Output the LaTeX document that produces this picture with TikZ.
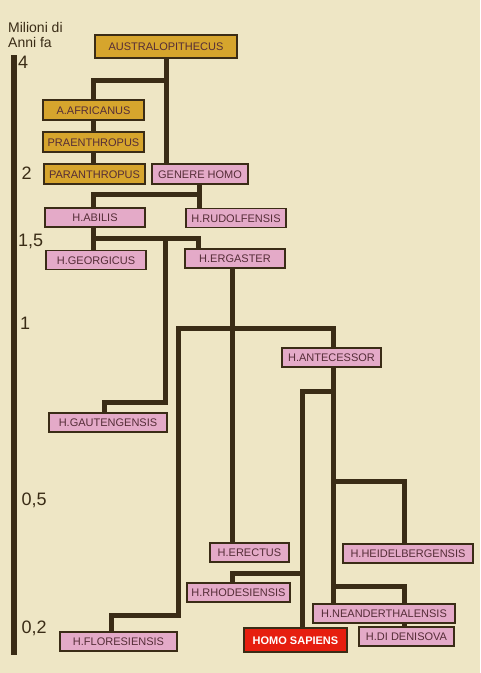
\documentclass[tikz,border=0pt]{standalone}
\usepackage{fontspec}
\setmainfont{Liberation Sans}
\usetikzlibrary{calc}

\definecolor{sfondo}{RGB}{238,230,197}
\definecolor{tronco}{RGB}{58,44,22}
\definecolor{rosa}{RGB}{228,170,200}
\definecolor{ocra}{RGB}{214,165,45}
\definecolor{rosso}{RGB}{230,30,15}
\definecolor{scritta}{RGB}{85,45,55}

\tikzset{
  specie/.style={draw=tronco, line width=1.2pt, fill=rosa, inner sep=0pt,
    minimum height=19pt, text height=8pt, text depth=0pt,
    font=\fontsize{11}{13}\selectfont, text=scritta},
  antico/.style={fill=ocra},
  ramo/.style={draw=tronco, line width=5pt},
  tacca/.style={anchor=base west, inner sep=0pt, font=\fontsize{18}{20}\selectfont, text=tronco},
}

\begin{document}
\begin{tikzpicture}[x=1pt,y=-1pt]
	\fill[sfondo] (0,0) rectangle (480,673);
	\useasboundingbox (0,0) rectangle (480,673);

	% scala dei tempi
	\draw[tronco, line width=6pt] (14,55) -- (14,655);
	\begin{scope}[every node/.style={anchor=base west, inner sep=0pt, font=\fontsize{14}{15}\selectfont, text=tronco}]
		\node (tit1) at (8,32) {Milioni di};
		\node (tit2) at (8,47) {Anni fa};
	\end{scope}
	\node[tacca] (t4) at (18,68) {4};
	\node[tacca] (t2) at (21.5,179) {2};
	\node[tacca] (t15) at (18,246) {1,5};
	\node[tacca] (t1) at (20,329) {1};
	\node[tacca] (t05) at (21.5,505) {0,5};
	\node[tacca] (t02) at (21.5,633) {0,2};

	% specie
	\begin{scope}[every node/.style={specie}]
		\node[antico, minimum width=142pt, minimum height=23pt] (austr) at (166,46.5) {AUSTRALOPITHECUS};
		\node[antico, minimum width=101pt, minimum height=20pt] (afric) at (93.5,110) {A.AFRICANUS};
		\node[antico, minimum width=101pt, minimum height=20pt] (praen) at (93.5,142) {PRAENTHROPUS};
		\node[antico, minimum width=101pt, minimum height=20pt] (paran) at (94.5,174) {PARANTHROPUS};
		\node[minimum width=96pt, minimum height=20pt] (genere) at (200,174) {GENERE HOMO};
		\node[minimum width=100pt] (abilis) at (95,217.5) {H.ABILIS};
		\node[minimum width=100pt] (rudolf) at (236,218) {H.RUDOLFENSIS};
		\node[minimum width=100pt] (georg) at (96,260) {H.GEORGICUS};
		\node[minimum width=100pt] (ergast) at (235,258.5) {H.ERGASTER};
		\node[minimum width=99pt] (antec) at (331.5,357.5) {H.ANTECESSOR};
		\node[minimum width=118pt] (gauten) at (108,422.5) {H.GAUTENGENSIS};
		\node[minimum width=79pt] (erectus) at (249.5,552.5) {H.ERECTUS};
		\node[minimum width=130pt] (heidel) at (408,553.5) {H.HEIDELBERGENSIS};
		\node[minimum width=103pt] (rhodes) at (238.5,592.5) {H.RHODESIENSIS};
		\node[minimum width=142pt] (neand) at (384,613.5) {H.NEANDERTHALENSIS};
		\node[minimum width=95pt] (deniso) at (406.5,636.5) {H.DI DENISOVA};
		\node[minimum width=117pt] (flores) at (118.5,641.5) {H.FLORESIENSIS};
		\node[fill=rosso, text=white, minimum width=103pt, minimum height=24pt,
			font=\fontsize{11}{13}\selectfont\bfseries] (sapiens) at (295.5,640) {HOMO SAPIENS};
	\end{scope}

	% rami
	\coordinate (nodo1) at (165,238);
	\coordinate (nodo2) at (232,328);
	\draw[ramo] (austr.south) -- (austr.south |- genere.north);
	\draw[ramo] (austr.south |- 0,80) -| ([xshift=-0.5pt]afric.north);
	\draw[ramo] ([xshift=-0.5pt]afric.south) -- ([xshift=-0.5pt]praen.north);
	\draw[ramo] ([xshift=-0.5pt]praen.south) -- ([xshift=-0.5pt]praen.south |- paran.north);
	\draw[ramo] ([xshift=-1pt]genere.south) -- ([xshift=-1pt]genere.south |- rudolf.north);
	\draw[ramo] ([xshift=-1pt]genere.south |- 0,194) -| ([xshift=-2pt]abilis.north);
	\draw[ramo] ([xshift=-2pt]abilis.south) -- ([xshift=-2pt]abilis.south |- georg.north);
	\draw[ramo] ([xshift=-2pt]abilis.south |- 0,238) -| ([xshift=-37pt]ergast.north);
	\draw[ramo] (nodo1) |- ($(gauten.north)+(-4,-10)$) -- ([xshift=-4pt]gauten.north);
	\draw[ramo] ([xshift=-3pt]ergast.south) -- ([xshift=-3pt]ergast.south |- erectus.north);
	\draw[ramo] ([xshift=-7pt]flores.north) |- (178,615) |- (nodo2) -| ([xshift=1.5pt]antec.north);
	\draw[ramo] ([xshift=1.5pt]antec.south) -- ([xshift=1.5pt]antec.south |- neand.north);
	\draw[ramo] ([xshift=1.5pt]antec.south |- 0,391) -| ([xshift=6.5pt]sapiens.north);
	\draw[ramo] ([xshift=1.5pt]antec.south |- 0,481) -| ([xshift=-4pt]heidel.north);
	\draw[ramo] ([xshift=1.5pt]antec.south |- 0,586) -| ([xshift=20pt]neand.north);
	\draw[ramo] ([xshift=20pt]neand.south) -- ([xshift=20pt]neand.south |- deniso.north);
	\draw[ramo] ([xshift=6.5pt]sapiens.north |- 0,573) -| ([xshift=-6.5pt]rhodes.north);
\end{tikzpicture}
\end{document}
